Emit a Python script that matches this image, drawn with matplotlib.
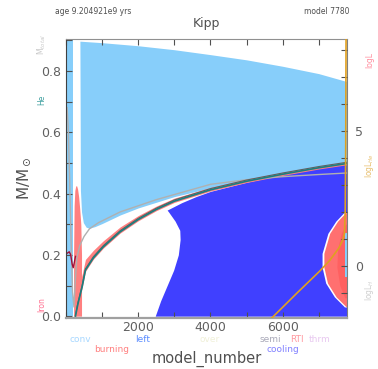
import numpy as np
import matplotlib
matplotlib.use('Agg')
import matplotlib.pyplot as plt
from matplotlib.ticker import MultipleLocator, FixedLocator

# ---- data ----
# total mass (top of star)
star_x = [0, 1000, 2000, 3000, 4000, 5000, 6000, 7000, 7780]
star_m = [0.900, 0.892, 0.882, 0.869, 0.853, 0.836, 0.815, 0.791, 0.765]

# main convective envelope, lower edge
env_x = [385, 400, 430, 480, 560, 650, 800, 1000, 1500, 2000, 3000, 4000, 5000, 6000, 7000, 7780]
env_bot = [0.895, 0.41, 0.34, 0.305, 0.29, 0.287, 0.292, 0.302, 0.33, 0.353, 0.39, 0.418, 0.443, 0.465, 0.485, 0.500]

# early convective strip at the far left
early_x = [0, 190]

# helium core boundary
core_x = [262, 330, 447, 538, 759, 1034, 1500, 2000, 2500, 3000, 4000, 5000, 6000, 7000, 7780]
core_m = [0.0, 0.04, 0.096, 0.15, 0.19, 0.226, 0.275, 0.315, 0.348, 0.375, 0.412, 0.440, 0.463, 0.484, 0.498]
shell_w = [0.05, 0.045, 0.04, 0.035, 0.025, 0.02, 0.016, 0.013, 0.011, 0.01, 0.008, 0.007, 0.006, 0.005, 0.005]

# early burning blob
burn_x = [210, 225, 245, 270, 295, 320, 350, 380, 410, 430]
burn_top = [0.20, 0.36, 0.41, 0.425, 0.425, 0.415, 0.39, 0.35, 0.30, 0.20]

# cooling region (left edge as function of mass)
cool_m = [0.0, 0.05, 0.10, 0.15, 0.20, 0.25, 0.28, 0.31, 0.34, 0.346, 0.37, 0.39, 0.407, 0.437, 0.462, 0.483, 0.498]
cool_xl = [2470, 2620, 2800, 2980, 3110, 3160, 3150, 3020, 2840, 2800, 3200, 3600, 4000, 5000, 6000, 7000, 7780]

# late burning lens at the right
lens_m = [0.03, 0.036, 0.063, 0.108, 0.16, 0.205, 0.27, 0.31, 0.335, 0.34]
lens_xl = [7760, 7710, 7480, 7240, 7140, 7140, 7300, 7520, 7720, 7780]
lens_in_m = [0.06, 0.10, 0.16, 0.22, 0.27, 0.30]
lens_in_xl = [7720, 7580, 7500, 7520, 7620, 7740]
late_conv_m = [0.127, 0.27]

# gray line
gray_x = [30, 60, 100, 140, 180, 220, 260, 300, 380, 500, 650, 900, 1500, 2500, 4000, 5000, 6000, 7000, 7780]
gray_m = [0.68, 0.62, 0.45, 0.25, 0.08, 0.03, 0.12, 0.19, 0.23, 0.26, 0.285, 0.305, 0.34, 0.38, 0.43, 0.445, 0.455, 0.462, 0.467]

# dark red line near the start
dred_x = [30, 90, 130, 170, 200, 230, 262]
dred_m = [0.205, 0.21, 0.2, 0.17, 0.158, 0.175, 0.195]

# He luminosity (right axis)
lhe_x = [5690, 6400, 7020, 7300, 7550, 7665, 7710, 7730, 7745, 7755]
lhe_y = [-1.94, -1.0, -0.2, 0.2, 0.65, 0.96, 1.2, 2.0, 4.5, 9.0]

legend_row1 = [('conv', '#a8d8ff', 80), ('left', '#5a8cff', 143), ('over', '#f0f0d8', 210),
               ('semi', '#a8a8b8', 270), ('RTI', '#ff9aa0', 297), ('thrm', '#e8c8f0', 320)]
legend_row2 = [('burning', '#ff8080', 112), ('cooling', '#8080ff', 283)]

W, H = 378, 369
fig = plt.figure(figsize=(W / 100, H / 100), dpi=100)
ax = fig.add_axes([66 / W, 1 - 318 / H, (347 - 66) / W, (318 - 39) / H])

lblue = '#87cefa'
dblue = '#4040ff'
salmon = '#ff8080'

ax.fill_betweenx(cool_m, cool_xl, 7780, color=dblue, lw=0)
ax.fill_between(early_x, 0, 0.9, color=lblue, lw=0)
ax.fill_between(env_x, env_bot, np.interp(env_x, star_x, star_m), color=lblue, lw=0)
ax.fill_between(burn_x, 0, burn_top, color=salmon, lw=0)
shell_hi = np.array(core_m) + np.array(shell_w)
ax.fill_between(core_x, np.array(core_m) - 0.004, shell_hi, color=salmon, lw=0)
ax.fill_betweenx(lens_m, np.array(lens_xl) - 50, 7780, color='white', lw=0)
ax.fill_betweenx(lens_m, lens_xl, 7780, color='#ff7070', lw=0)
ax.fill_betweenx(lens_in_m, lens_in_xl, 7780, color='#ff6060', lw=0)
ax.fill_betweenx(late_conv_m, 7725, 7780, color=lblue, lw=0)

ax.plot(gray_x, gray_m, color='#b0b0b0', lw=1.0)
ax.plot(core_x, np.array(core_m) + 0.004, color='#606060', lw=0.8)
ax.plot(core_x, core_m, color='#1b7f7f', lw=1.2)
ax.plot(dred_x, dred_m, color='#a0103a', lw=1.0)

ax.set_xlim(0, 7780)
ax.set_ylim(-0.006, 0.904)
ax.xaxis.set_major_locator(FixedLocator([2000, 4000, 6000]))
ax.xaxis.set_minor_locator(MultipleLocator(1000))
ax.yaxis.set_major_locator(MultipleLocator(0.2))
ax.yaxis.set_minor_locator(MultipleLocator(0.1))
ax.tick_params(which='both', direction='in', top=True, colors='#505050', labelcolor='#606060',
               labelsize=9, length=4, width=0.8)
ax.tick_params(axis='x', pad=2)
for side, c in [('left', '#404040'), ('top', '#909090'), ('bottom', '#a0a0a0'), ('right', '#808080')]:
    ax.spines[side].set_color(c)
ax.spines['bottom'].set_linewidth(1.6)

ax2 = ax.twinx()
ax2.set_ylim(-1.93, 8.4)
ax2.plot(lhe_x, lhe_y, color='#e0a020', lw=1.2)
ax2.set_xlim(0, 7780)
ax2.yaxis.set_major_locator(FixedLocator([0, 5]))
ax2.yaxis.set_minor_locator(MultipleLocator(1))
ax2.tick_params(which='both', direction='in', colors='#505050', labelcolor='#606060',
                labelsize=9, length=4, width=0.8, pad=6)
for s in ax2.spines.values():
    s.set_visible(False)

ax.set_ylabel(r'M/M$_\odot$', fontsize=11, color='#505050', labelpad=6)
fig.text(206.5 / W, 1 - 359 / H, 'model_number', fontsize=10.5, color='#505050', ha='center', va='center')

fig.text(206.5 / W, 1 - 23 / H, 'Kipp', fontsize=9, color='#505050', ha='center', va='center')
fig.text(55 / W, 1 - 12 / H, 'age 9.204921e9 yrs', fontsize=5.5, color='#505050', ha='left', va='center')
fig.text(350 / W, 1 - 12 / H, 'model 7780', fontsize=5.5, color='#505050', ha='right', va='center')

for txt, c, xp in legend_row1:
    fig.text(xp / W, 1 - 340 / H, txt, fontsize=6.5, color=c, ha='center', va='center')
for txt, c, xp in legend_row2:
    fig.text(xp / W, 1 - 349.5 / H, txt, fontsize=6.5, color=c, ha='center', va='center')

fig.text(42 / W, 1 - 45 / H, r'M$_{total}$', fontsize=5.5, color='#c8c8c8', rotation=90, ha='center', va='center')
fig.text(42 / W, 1 - 100 / H, 'He', fontsize=5.5, color='#40a0a0', rotation=90, ha='center', va='center')
fig.text(42 / W, 1 - 305 / H, 'Iron', fontsize=5.5, color='#ff7090', rotation=90, ha='center', va='center')
fig.text(370 / W, 1 - 60 / H, 'logL', fontsize=5.5, color='#ff90a0', rotation=90, ha='center', va='center')
fig.text(370 / W, 1 - 165 / H, r'logL$_{He}$', fontsize=5.5, color='#e8c070', rotation=90, ha='center', va='center')
fig.text(370 / W, 1 - 290 / H, r'logL$_{H}$', fontsize=5.5, color='#d0d0d0', rotation=90, ha='center', va='center')

fig.savefig('out.png', dpi=100)
